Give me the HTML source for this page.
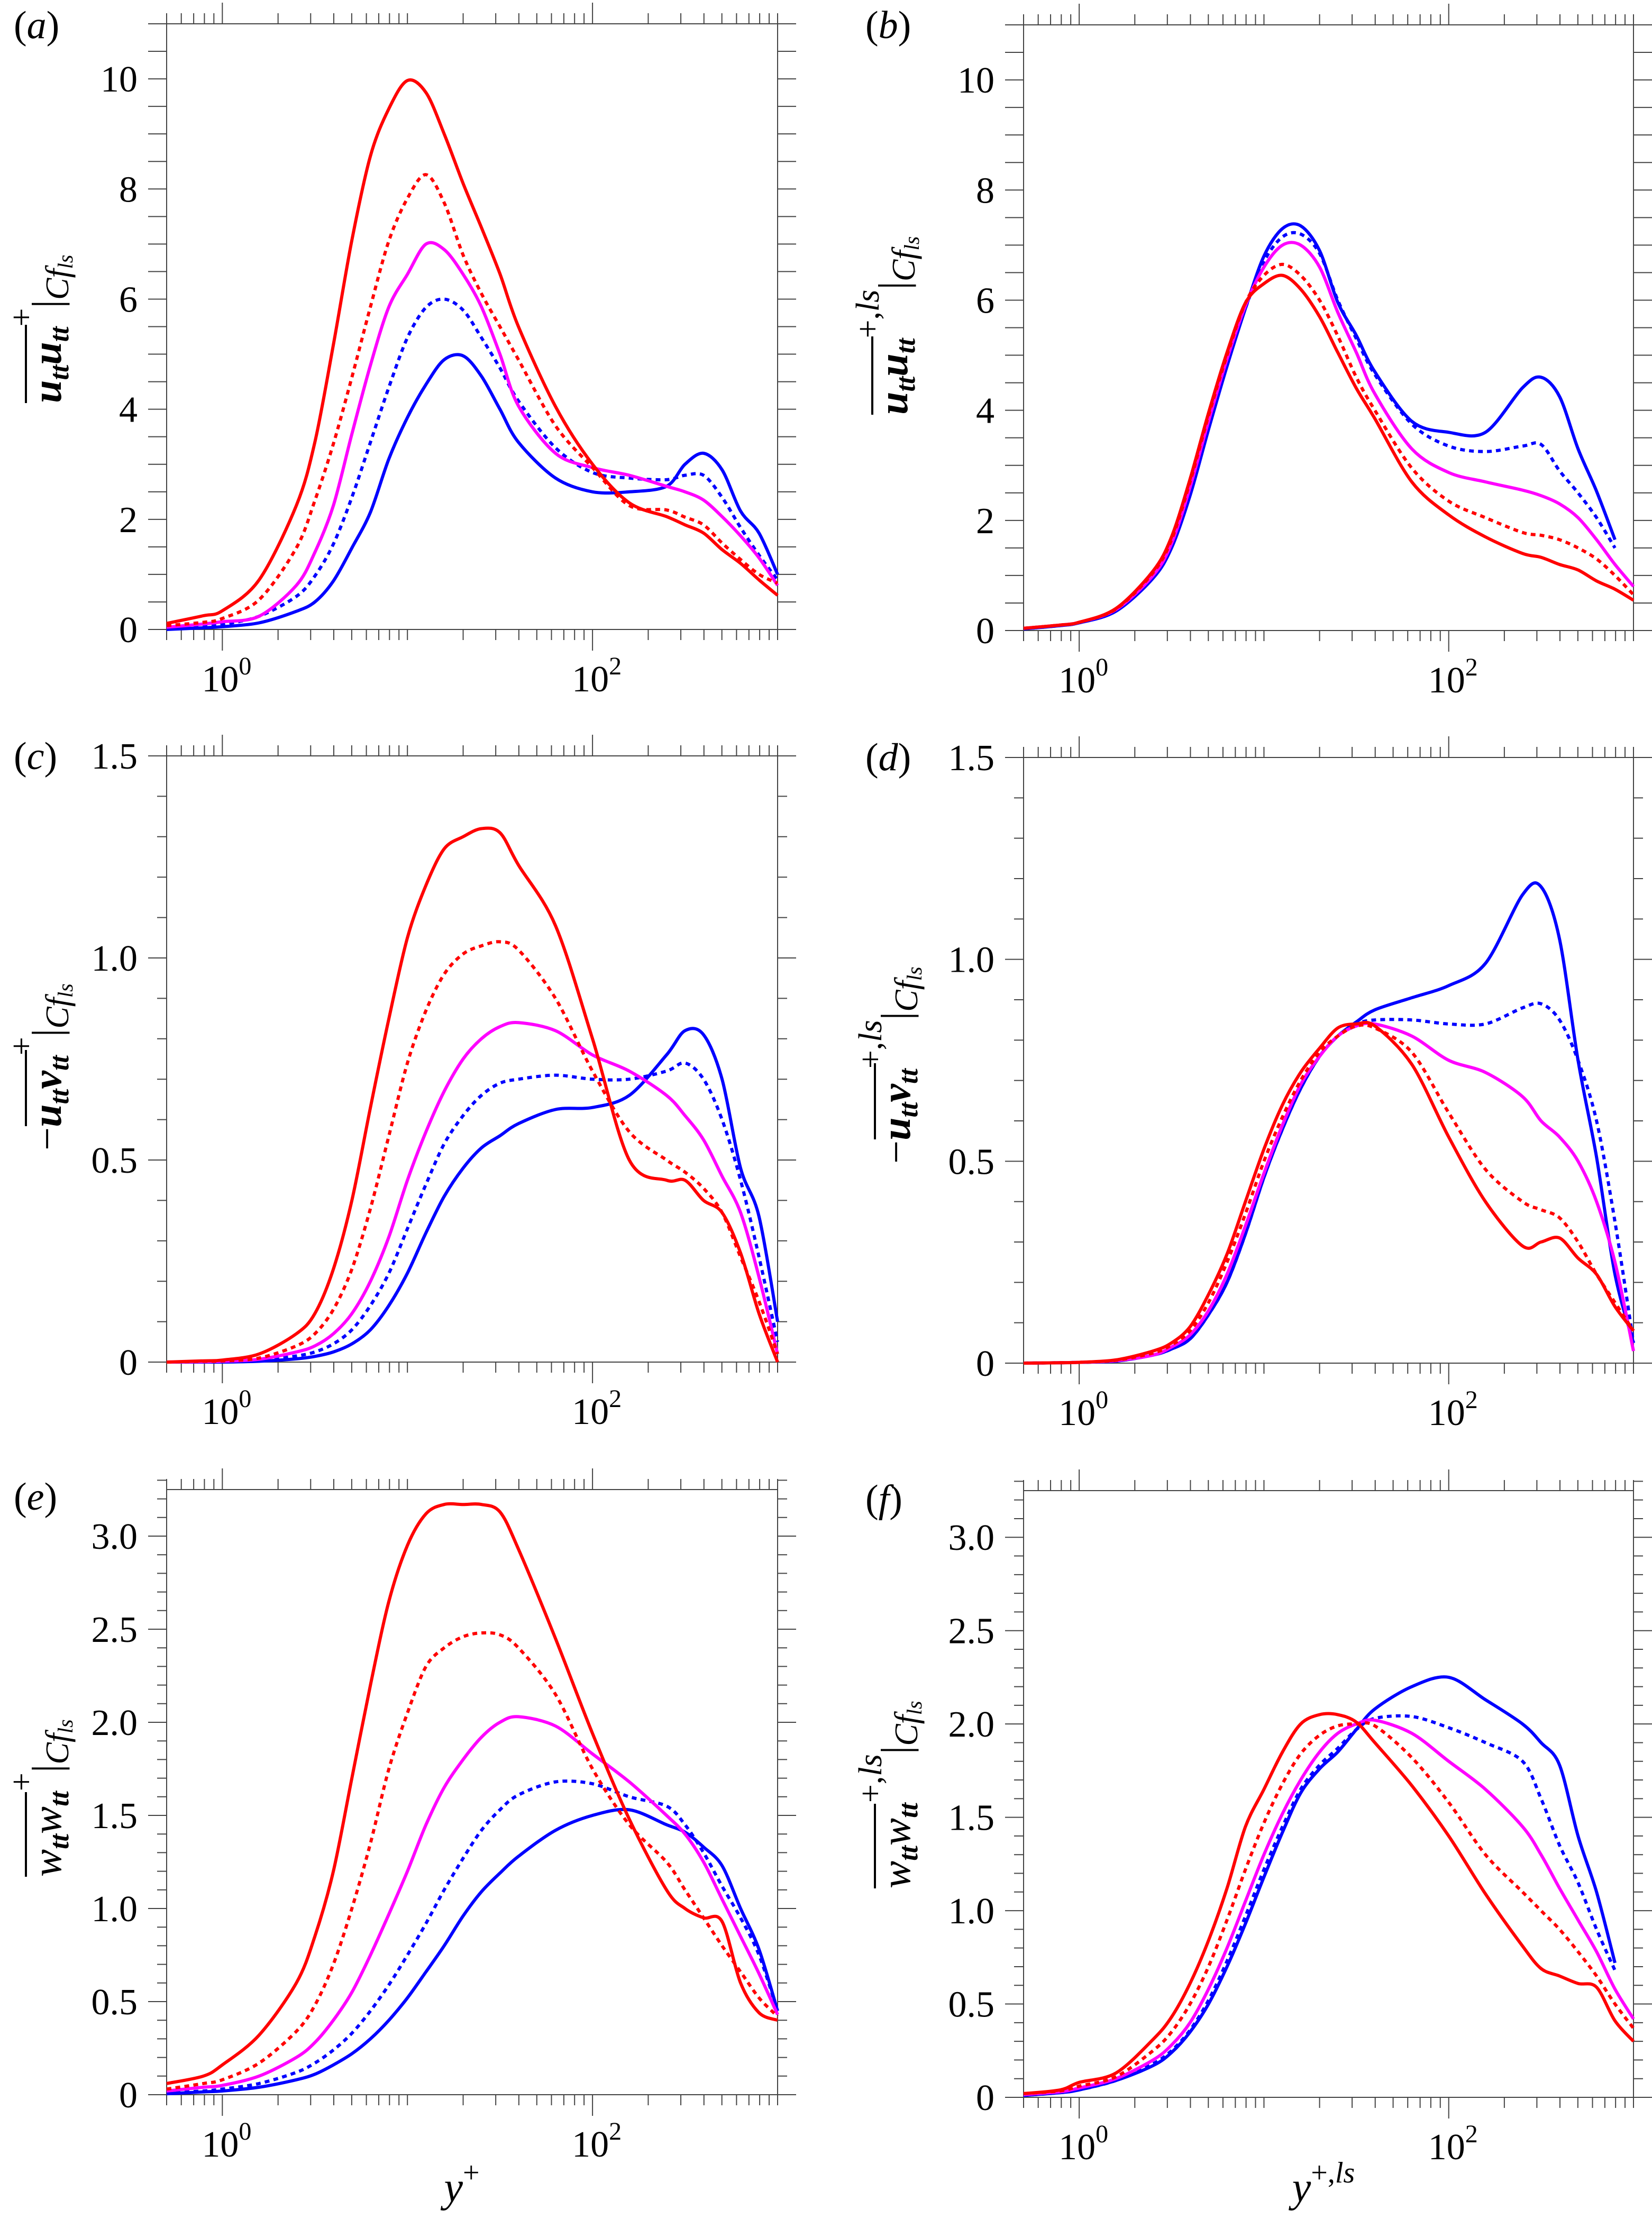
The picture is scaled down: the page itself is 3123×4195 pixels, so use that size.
<!DOCTYPE html>
<html><head><meta charset="utf-8">
<style>
html,body{margin:0;padding:0;background:#fff;}
svg{display:block;font-family:"Liberation Serif",serif;}
</style></head>
<body>
<svg id="fig" width="3123" height="4195" viewBox="0 0 3123 4195" xmlns="http://www.w3.org/2000/svg">
<rect width="3123" height="4195" fill="#fff"/>
<g id="panels"></g>

<text x="26" y="72" font-size="74">(<tspan font-style="italic">a</tspan>)</text>
<text x="1636" y="72" font-size="74">(<tspan font-style="italic">b</tspan>)</text>
<text x="26" y="1454" font-size="74">(<tspan font-style="italic">c</tspan>)</text>
<text x="1636" y="1456" font-size="74">(<tspan font-style="italic">d</tspan>)</text>
<text x="26" y="2854" font-size="74">(<tspan font-style="italic">e</tspan>)</text>
<text x="1636" y="2858" font-size="74">(<tspan font-style="italic">f</tspan>)</text>

<g transform="translate(115,762) rotate(-90)">
<line x1="0" y1="-66" x2="148" y2="-66" stroke="#000" stroke-width="4"/>
<text x="0" y="0" font-size="78"><tspan font-weight="bold" font-style="italic">u</tspan><tspan font-size="52" font-weight="bold" font-style="italic" dy="14">tt</tspan><tspan font-weight="bold" font-style="italic" dy="-14">u</tspan><tspan font-size="52" font-weight="bold" font-style="italic" dy="14">tt</tspan><tspan font-size="62" dy="-68">+</tspan><tspan dy="54">|</tspan><tspan font-style="italic" font-size="62" dy="14">Cf</tspan><tspan font-size="40" font-style="italic" dy="8">ls</tspan></text>
</g>
<g transform="translate(1715,784) rotate(-90)">
<line x1="0" y1="-66" x2="148" y2="-66" stroke="#000" stroke-width="4"/>
<text x="0" y="0" font-size="78"><tspan font-weight="bold" font-style="italic">u</tspan><tspan font-size="52" font-weight="bold" font-style="italic" dy="14">tt</tspan><tspan font-weight="bold" font-style="italic" dy="-14">u</tspan><tspan font-size="52" font-weight="bold" font-style="italic" dy="14">tt</tspan><tspan font-size="62" dy="-68">+,</tspan><tspan font-size="62" font-style="italic">ls</tspan><tspan dy="54">|</tspan><tspan font-style="italic" font-size="62" dy="14">Cf</tspan><tspan font-size="40" font-style="italic" dy="8">ls</tspan></text>
</g>
<g transform="translate(115,2175) rotate(-90)">
<line x1="46" y1="-66" x2="190" y2="-66" stroke="#000" stroke-width="4"/>
<text x="0" y="0" font-size="78"><tspan>−</tspan><tspan font-weight="bold" font-style="italic">u</tspan><tspan font-size="52" font-weight="bold" font-style="italic" dy="14">tt</tspan><tspan font-weight="bold" font-style="italic" dy="-14">v</tspan><tspan font-size="52" font-weight="bold" font-style="italic" dy="14">tt</tspan><tspan font-size="62" dy="-68">+</tspan><tspan dy="54">|</tspan><tspan font-style="italic" font-size="62" dy="14">Cf</tspan><tspan font-size="40" font-style="italic" dy="8">ls</tspan></text>
</g>
<g transform="translate(1720,2200) rotate(-90)">
<line x1="46" y1="-66" x2="190" y2="-66" stroke="#000" stroke-width="4"/>
<text x="0" y="0" font-size="78"><tspan>−</tspan><tspan font-weight="bold" font-style="italic">u</tspan><tspan font-size="52" font-weight="bold" font-style="italic" dy="14">tt</tspan><tspan font-weight="bold" font-style="italic" dy="-14">v</tspan><tspan font-size="52" font-weight="bold" font-style="italic" dy="14">tt</tspan><tspan font-size="62" dy="-68">+,</tspan><tspan font-size="62" font-style="italic">ls</tspan><tspan dy="54">|</tspan><tspan font-style="italic" font-size="62" dy="14">Cf</tspan><tspan font-size="40" font-style="italic" dy="8">ls</tspan></text>
</g>
<g transform="translate(115,3548) rotate(-90)">
<line x1="0" y1="-66" x2="160" y2="-66" stroke="#000" stroke-width="4"/>
<text x="0" y="0" font-size="78"><tspan font-style="italic">w</tspan><tspan font-size="52" font-weight="bold" font-style="italic" dy="14">tt</tspan><tspan font-style="italic" dy="-14">w</tspan><tspan font-size="52" font-weight="bold" font-style="italic" dy="14">tt</tspan><tspan font-size="62" dy="-68">+</tspan><tspan dy="54">|</tspan><tspan font-style="italic" font-size="62" dy="14">Cf</tspan><tspan font-size="40" font-style="italic" dy="8">ls</tspan></text>
</g>
<g transform="translate(1720,3570) rotate(-90)">
<line x1="0" y1="-66" x2="160" y2="-66" stroke="#000" stroke-width="4"/>
<text x="0" y="0" font-size="78"><tspan font-style="italic">w</tspan><tspan font-size="52" font-weight="bold" font-style="italic" dy="14">tt</tspan><tspan font-style="italic" dy="-14">w</tspan><tspan font-size="52" font-weight="bold" font-style="italic" dy="14">tt</tspan><tspan font-size="62" dy="-68">+,</tspan><tspan font-size="62" font-style="italic">ls</tspan><tspan dy="54">|</tspan><tspan font-style="italic" font-size="62" dy="14">Cf</tspan><tspan font-size="40" font-style="italic" dy="8">ls</tspan></text>
</g>

<text x="873" y="4162" font-size="80" text-anchor="middle"><tspan font-style="italic">y</tspan><tspan font-size="56" dy="-36">+</tspan></text>
<text x="2502" y="4162" font-size="80" text-anchor="middle"><tspan font-style="italic">y</tspan><tspan font-size="56" dy="-36">+,</tspan><tspan font-size="56" font-style="italic">ls</tspan></text>
</svg>

<script>
const xGrid = [0.5,0.79,1,1.58,2.51,3.16,3.98,5.01,6.31,7.94,10,12.6,15.8,20,25.1,31.6,39.8,63.1,100,158,251,316,398,501,631,794,1000];
const xTickLabels = ["10","10"];
const xTickExps = ["0","2"];
const xTickValues = [1,100];
const yLabelsUU = ["0","2","4","6","8","10"];
const yLabelValsUU = [0,2,4,6,8,10];
const yLabelsUV = ["0","0.5","1.0","1.5"];
const yLabelValsUV = [0,0.5,1.0,1.5];
const yLabelsWW = ["0","0.5","1.0","1.5","2.0","2.5","3.0"];
const yLabelValsWW = [0,0.5,1.0,1.5,2.0,2.5,3.0];

const aRedSolid = [0.11,0.25,0.34,0.9,2.25,3.4,5.17,7.07,8.6,9.46,9.97,9.75,9.0,8.1,7.3,6.46,5.5,4.05,3.0,2.3,2.05,1.9,1.75,1.45,1.2,0.9,0.62];
const aRedDot = [0.07,0.13,0.2,0.54,1.48,2.34,3.37,4.58,5.86,7.06,7.83,8.26,7.75,6.8,6.1,5.5,4.9,3.7,2.94,2.25,2.17,2.04,1.9,1.57,1.27,1.0,0.84];
const aMag = [0.04,0.1,0.14,0.24,0.8,1.4,2.25,3.55,4.8,5.86,6.45,7.0,6.9,6.45,5.86,5.0,4.06,3.2,2.94,2.8,2.6,2.5,2.35,2.05,1.7,1.3,0.8];
const aBlueDot = [0.03,0.06,0.09,0.24,0.6,0.97,1.55,2.4,3.4,4.4,5.3,5.85,6.0,5.8,5.3,4.75,4.15,3.3,2.85,2.75,2.72,2.8,2.8,2.4,1.85,1.35,0.9];
const aBlueSolid = [0.0,0.03,0.05,0.12,0.33,0.5,0.88,1.48,2.13,3.1,3.85,4.45,4.9,4.97,4.6,4.0,3.4,2.75,2.5,2.5,2.6,3.0,3.2,2.9,2.15,1.75,1.0];

const bRedSolid = [0.04,0.1,0.15,0.4,1.08,1.7,2.75,3.95,5.05,5.95,6.3,6.45,6.2,5.7,5.05,4.4,3.85,2.7,2.1,1.7,1.4,1.33,1.2,1.1,0.9,0.75,0.55];
const bRedDot = [0.04,0.1,0.15,0.39,1.05,1.65,2.7,3.9,5.0,5.95,6.45,6.65,6.45,6.0,5.35,4.6,4.0,2.95,2.35,2.05,1.78,1.73,1.65,1.5,1.3,1.0,0.65];
const bMag = [0.04,0.1,0.15,0.38,1.0,1.58,2.6,3.8,4.93,5.9,6.6,7.0,7.0,6.6,5.78,5.05,4.3,3.3,2.87,2.7,2.55,2.45,2.3,2.05,1.65,1.2,0.8];
const bBlueDot = [0.03,0.09,0.14,0.36,0.96,1.52,2.48,3.68,4.82,5.85,6.7,7.15,7.2,6.85,6.0,5.3,4.65,3.75,3.35,3.25,3.35,3.38,2.9,2.5,2.05,1.5,null];
const bBlueSolid = [0.03,0.09,0.14,0.35,0.95,1.5,2.45,3.65,4.8,5.85,6.8,7.3,7.35,6.9,5.96,5.36,4.7,3.8,3.6,3.6,4.41,4.6,4.25,3.3,2.53,1.65,null];

const cRedSolid = [0,0.003,0.005,0.02,0.07,0.12,0.23,0.4,0.63,0.85,1.05,1.18,1.27,1.3,1.32,1.31,1.23,1.08,0.8,0.5,0.45,0.45,0.4,0.37,0.27,0.12,0.0];
const cRedDot = [0,0.002,0.003,0.01,0.04,0.07,0.13,0.23,0.38,0.56,0.74,0.87,0.96,1.01,1.03,1.04,1.02,0.9,0.72,0.57,0.5,0.47,0.43,0.37,0.26,0.15,0.02];
const cMag = [0,0.001,0.002,0.007,0.025,0.04,0.07,0.12,0.2,0.31,0.45,0.57,0.67,0.75,0.8,0.83,0.84,0.82,0.76,0.72,0.66,0.61,0.55,0.46,0.37,0.21,0.02];
const cBlueDot = [0,0,0.001,0.004,0.015,0.025,0.045,0.08,0.14,0.22,0.33,0.44,0.54,0.61,0.66,0.69,0.7,0.71,0.7,0.7,0.72,0.74,0.7,0.6,0.45,0.26,0.05];
const cBlueSolid = [0,0,0,0.002,0.008,0.014,0.025,0.045,0.08,0.14,0.22,0.32,0.41,0.48,0.53,0.56,0.59,0.625,0.63,0.66,0.76,0.82,0.81,0.7,0.48,0.36,0.1];

const dRedSolid = [0,0.001,0.002,0.008,0.03,0.05,0.09,0.17,0.27,0.4,0.53,0.64,0.72,0.78,0.83,0.84,0.835,0.74,0.56,0.4,0.29,0.3,0.31,0.26,0.22,0.14,0.08];
const dRedDot = [0,0.001,0.002,0.007,0.025,0.045,0.08,0.15,0.25,0.37,0.5,0.61,0.7,0.77,0.81,0.835,0.83,0.77,0.62,0.48,0.4,0.38,0.36,0.3,0.22,0.15,0.08];
const dMag = [0,0.001,0.002,0.006,0.02,0.04,0.07,0.13,0.22,0.34,0.47,0.59,0.69,0.76,0.81,0.835,0.84,0.81,0.75,0.72,0.66,0.6,0.56,0.5,0.4,0.25,0.03];
const dBlueDot = [0,0.001,0.002,0.005,0.02,0.035,0.06,0.12,0.2,0.32,0.46,0.58,0.68,0.76,0.81,0.84,0.85,0.85,0.84,0.84,0.88,0.89,0.85,0.75,0.6,0.35,0.05];
const dBlueSolid = [0,0.001,0.002,0.005,0.02,0.035,0.06,0.12,0.2,0.32,0.46,0.58,0.68,0.76,0.81,0.845,0.875,0.905,0.935,0.99,1.16,1.18,1.05,0.75,0.51,0.22,0.05];

const eRedSolid = [0.06,0.1,0.16,0.32,0.6,0.85,1.2,1.7,2.2,2.65,2.95,3.12,3.17,3.17,3.17,3.13,2.93,2.45,1.94,1.48,1.1,1.0,0.95,0.93,0.6,0.44,0.4];
const eRedDot = [0.03,0.06,0.08,0.17,0.34,0.48,0.7,1.0,1.35,1.75,2.05,2.3,2.4,2.46,2.48,2.47,2.4,2.15,1.75,1.45,1.25,1.1,0.95,0.8,0.66,0.52,0.42];
const eMag = [0.02,0.04,0.05,0.1,0.2,0.28,0.4,0.55,0.75,0.97,1.2,1.45,1.65,1.8,1.92,2.0,2.03,1.98,1.83,1.68,1.5,1.4,1.25,1.05,0.85,0.65,0.43];
const eBlueDot = [0.01,0.02,0.03,0.06,0.12,0.17,0.24,0.33,0.45,0.59,0.75,0.92,1.1,1.27,1.42,1.53,1.61,1.68,1.67,1.6,1.55,1.45,1.3,1.12,0.95,0.75,0.45];
const eBlueSolid = [0.005,0.015,0.02,0.04,0.08,0.11,0.16,0.22,0.3,0.4,0.52,0.66,0.8,0.96,1.09,1.19,1.28,1.42,1.5,1.53,1.45,1.41,1.33,1.23,1.0,0.78,0.45];

const fRedSolid = [0.02,0.04,0.08,0.13,0.31,0.43,0.61,0.84,1.12,1.45,1.65,1.85,2.0,2.05,2.05,2.01,1.9,1.67,1.4,1.09,0.81,0.69,0.65,0.61,0.59,0.41,0.3];
const fRedDot = [0.02,0.035,0.06,0.11,0.25,0.35,0.5,0.7,0.95,1.22,1.47,1.68,1.84,1.94,1.99,2.0,1.99,1.82,1.58,1.3,1.1,1.0,0.9,0.78,0.65,0.5,0.37];
const fMag = [0.015,0.03,0.05,0.1,0.2,0.28,0.4,0.58,0.8,1.05,1.3,1.52,1.7,1.85,1.95,2.0,2.02,1.95,1.8,1.65,1.45,1.3,1.12,0.95,0.78,0.58,0.42];
const fBlueDot = [0.01,0.025,0.04,0.09,0.18,0.25,0.36,0.52,0.73,0.97,1.22,1.45,1.65,1.78,1.87,1.97,2.03,2.04,1.98,1.9,1.8,1.6,1.35,1.15,0.9,0.68,null];
const fBlueSolid = [0.01,0.025,0.04,0.09,0.17,0.24,0.35,0.5,0.7,0.93,1.18,1.42,1.63,1.76,1.85,1.97,2.08,2.2,2.25,2.13,2.0,1.9,1.78,1.4,1.1,0.72,null];

const NS = "http://www.w3.org/2000/svg";
const root = document.getElementById("panels");
const XMIN = Math.log10(0.5), XMAX = 3.0;
const panels = [
  {id:"a", l:315, r:1470, t:45, b:1190, ymax:11, step:0.5, major:0.5, labels:yLabelsUU, lv:yLabelValsUU,
   series:[aBlueSolid,aBlueDot,aMag,aRedDot,aRedSolid]},
  {id:"b", l:1935, r:3088, t:47, b:1192, ymax:11, step:0.5, major:0.5, labels:yLabelsUU, lv:yLabelValsUU,
   series:[bBlueSolid,bBlueDot,bMag,bRedDot,bRedSolid]},
  {id:"c", l:315, r:1470, t:1429, b:2575, ymax:1.5, step:0.1, major:0.5, labels:yLabelsUV, lv:yLabelValsUV,
   series:[cBlueSolid,cBlueDot,cMag,cRedDot,cRedSolid]},
  {id:"d", l:1935, r:3088, t:1432, b:2577, ymax:1.5, step:0.1, major:0.5, labels:yLabelsUV, lv:yLabelValsUV,
   series:[dBlueSolid,dBlueDot,dMag,dRedDot,dRedSolid]},
  {id:"e", l:315, r:1470, t:2816, b:3960, ymax:3.25, step:0.1, major:0.5, labels:yLabelsWW, lv:yLabelValsWW,
   series:[eBlueSolid,eBlueDot,eMag,eRedDot,eRedSolid]},
  {id:"f", l:1935, r:3088, t:2818, b:3965, ymax:3.25, step:0.1, major:0.5, labels:yLabelsWW, lv:yLabelValsWW,
   series:[fBlueSolid,fBlueDot,fMag,fRedDot,fRedSolid]}
];
const seriesNames = ["blue-solid","blue-dotted","magenta-solid","red-dotted","red-solid"];
const seriesColors = ["#0000ff","#0000ff","#ff00ff","#ff0000","#ff0000"];
const seriesDash = [null,"9 8",null,"9 8",null];

function mk(tag, attrs, parent){
  const e = document.createElementNS(NS, tag);
  for (const k in attrs) e.setAttribute(k, attrs[k]);
  parent.appendChild(e);
  return e;
}
function smoothPath(pts){
  if (pts.length < 2) return "";
  let d = "M" + pts[0][0].toFixed(1) + "," + pts[0][1].toFixed(1);
  for (let i = 0; i < pts.length - 1; i++) {
    const p0 = pts[i-1] || pts[i], p1 = pts[i], p2 = pts[i+1], p3 = pts[i+2] || p2;
    const t = 0.16;
    const c1 = [p1[0] + (p2[0]-p0[0])*t, p1[1] + (p2[1]-p0[1])*t];
    const c2 = [p2[0] - (p3[0]-p1[0])*t, p2[1] - (p3[1]-p1[1])*t];
    d += "C" + c1[0].toFixed(1) + "," + c1[1].toFixed(1) + " " + c2[0].toFixed(1) + "," + c2[1].toFixed(1) + " " + p2[0].toFixed(1) + "," + p2[1].toFixed(1);
  }
  return d;
}

panels.forEach(p => {
  const g = mk("g", {}, root);
  
  
  const xs = v => p.l + (Math.log10(v) - XMIN) / (XMAX - XMIN) * (p.r - p.l);
  const ys = v => p.b - v / p.ymax * (p.b - p.t);

  const box = mk("rect", {x:p.l, y:p.t, width:p.r-p.l, height:p.b-p.t, fill:"none", stroke:"#444", "stroke-width":2}, g);
  
  

  const yt = mk("g", {stroke:"#444", "stroke-width":2}, g);
  
  
  const n = Math.round(p.ymax / p.step + 1e-6);
  for (let i = 0; i <= n; i++) {
    const v = i * p.step;
    const isMaj = Math.abs(v / p.major - Math.round(v / p.major)) < 1e-6;
    const len = isMaj ? 35 : 18;
    const y = ys(v);
    mk("line", {x1:p.l-len, y1:y, x2:p.l, y2:y}, yt);
    mk("line", {x1:p.r, y1:y, x2:p.r+len, y2:y}, yt);
  }
  p.labels.forEach((lab, i) => {
    const t = mk("text", {x:p.l-55, y:ys(p.lv[i])+24, "font-size":70, "text-anchor":"end"}, g);
    
    
    t.textContent = lab;
  });

  const xt = mk("g", {stroke:"#444", "stroke-width":2}, g);
  
  
  for (let d = -1; d <= 3; d++) {
    for (let k = 1; k <= 9; k++) {
      const v = k * Math.pow(10, d);
      if (v < 0.5 - 1e-9 || v > 1000 + 1e-6) continue;
      const isMaj = xTickValues.some(m => Math.abs(m - v) < 1e-9);
      const len = isMaj ? 40 : 20;
      const x = xs(v);
      mk("line", {x1:x, y1:p.b, x2:x, y2:p.b+len}, xt);
      mk("line", {x1:x, y1:p.t-len, x2:x, y2:p.t}, xt);
    }
  }
  xTickValues.forEach((v, i) => {
    const t = mk("text", {x:xs(v)+8, y:p.b+117, "font-size":70, "text-anchor":"middle"}, g);
    
    
    const a = mk("tspan", {}, t); a.textContent = xTickLabels[i];
    const s = mk("tspan", {"font-size":48, dy:-32}, t); s.textContent = xTickExps[i];
  });

  p.series.forEach((arr, si) => {
    const pts = [];
    arr.forEach((v, i) => {
      if (v === null || v === undefined) return;
      pts.push([xs(xGrid[i]), ys(v)]);
    });
    const attrs = {d:smoothPath(pts), fill:"none", stroke:seriesColors[si], "stroke-width":6, "stroke-linejoin":"round"};
    if (seriesDash[si]) attrs["stroke-dasharray"] = seriesDash[si];
    const path = mk("path", attrs, g);
    
    
  });
});
</script>
</body></html>
